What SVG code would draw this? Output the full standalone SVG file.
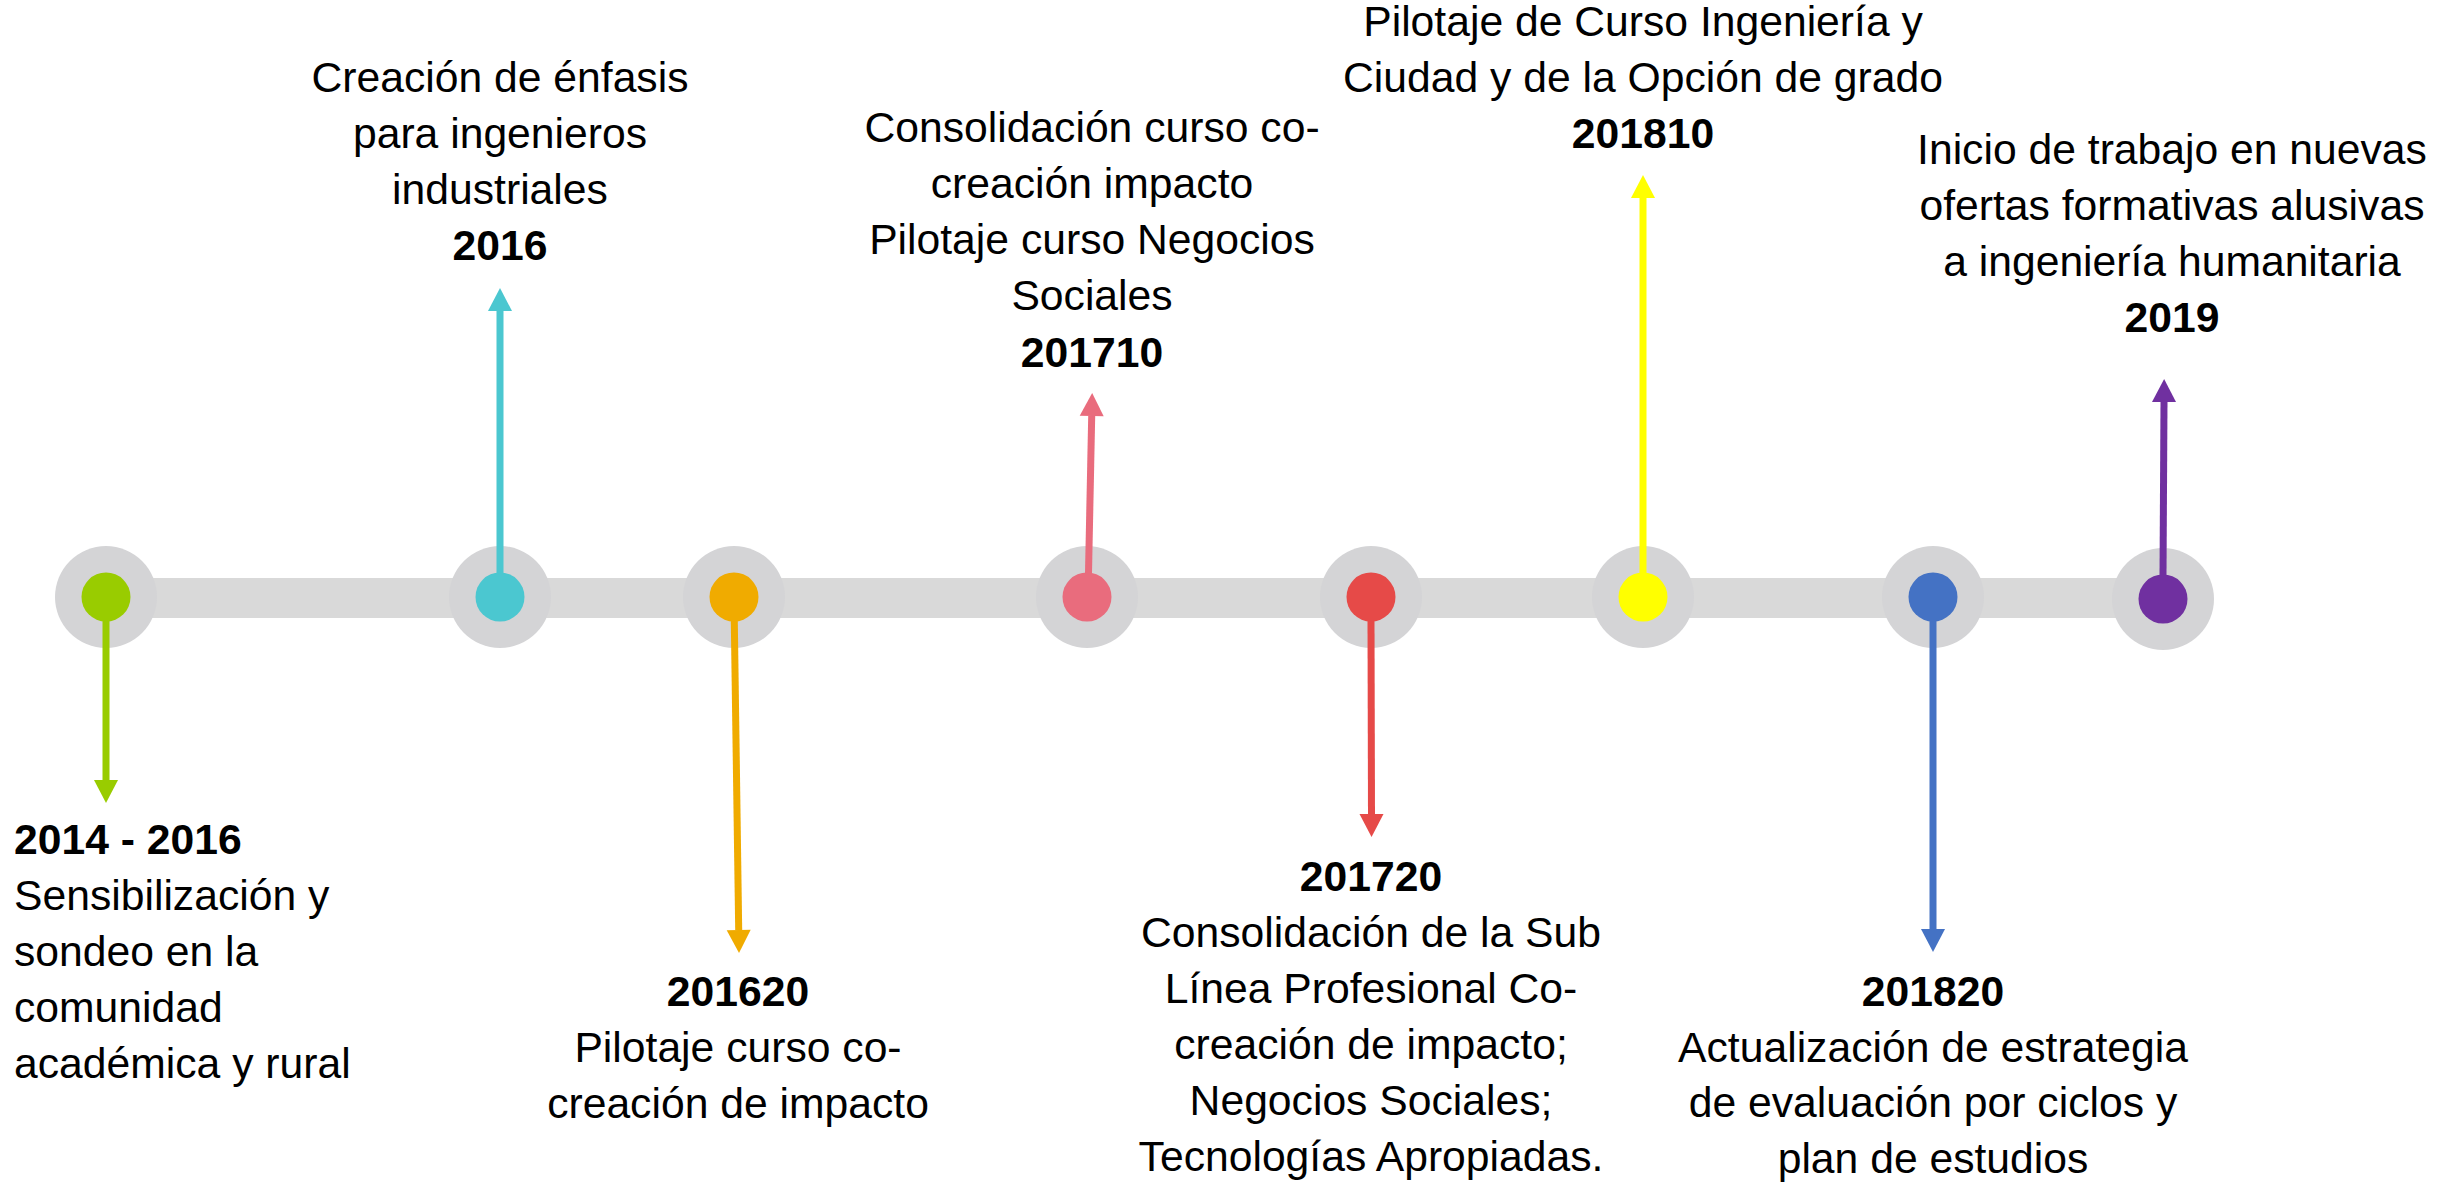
<svg xmlns="http://www.w3.org/2000/svg" width="2448" height="1182" viewBox="0 0 2448 1182">
<style>
text{font-family:"Liberation Sans",Arial,sans-serif;font-size:42.67px;fill:#000}
.b{font-weight:bold}
.c{text-anchor:middle}
.ring{fill:#D4D4D6}
.ln{stroke-width:7;fill:none}
</style>
<defs>
<marker id="mGreen" markerUnits="userSpaceOnUse" viewBox="0 -12 24 24" refX="0" refY="0" markerWidth="24" markerHeight="24" orient="auto" overflow="visible"><path d="M0,-12 L23,0 L0,12 Z" fill="#99CC00"/></marker>
<marker id="mCyan" markerUnits="userSpaceOnUse" viewBox="0 -12 24 24" refX="0" refY="0" markerWidth="24" markerHeight="24" orient="auto" overflow="visible"><path d="M0,-12 L23,0 L0,12 Z" fill="#4BC7D0"/></marker>
<marker id="mOrange" markerUnits="userSpaceOnUse" viewBox="0 -12 24 24" refX="0" refY="0" markerWidth="24" markerHeight="24" orient="auto" overflow="visible"><path d="M0,-12 L23,0 L0,12 Z" fill="#F0AB00"/></marker>
<marker id="mPink" markerUnits="userSpaceOnUse" viewBox="0 -12 24 24" refX="0" refY="0" markerWidth="24" markerHeight="24" orient="auto" overflow="visible"><path d="M0,-12 L23,0 L0,12 Z" fill="#E96C7D"/></marker>
<marker id="mRed" markerUnits="userSpaceOnUse" viewBox="0 -12 24 24" refX="0" refY="0" markerWidth="24" markerHeight="24" orient="auto" overflow="visible"><path d="M0,-12 L23,0 L0,12 Z" fill="#E64A48"/></marker>
<marker id="mYellow" markerUnits="userSpaceOnUse" viewBox="0 -12 24 24" refX="0" refY="0" markerWidth="24" markerHeight="24" orient="auto" overflow="visible"><path d="M0,-12 L23,0 L0,12 Z" fill="#FFFF00"/></marker>
<marker id="mBlue" markerUnits="userSpaceOnUse" viewBox="0 -12 24 24" refX="0" refY="0" markerWidth="24" markerHeight="24" orient="auto" overflow="visible"><path d="M0,-12 L23,0 L0,12 Z" fill="#4472C4"/></marker>
<marker id="mPurple" markerUnits="userSpaceOnUse" viewBox="0 -12 24 24" refX="0" refY="0" markerWidth="24" markerHeight="24" orient="auto" overflow="visible"><path d="M0,-12 L23,0 L0,12 Z" fill="#7030A0"/></marker>
</defs>
<rect width="2448" height="1182" fill="#FFFFFF"/>
<g id="timeline-bar">
<rect x="106" y="578" width="2034" height="40" fill="#D9D9D9"/>
</g>
<g id="node-2014">
<circle class="ring" cx="106" cy="597" r="51"/>
<circle cx="106" cy="597" r="24.5" fill="#99CC00"/>
<text class="b" x="14" y="854">2014 - 2016</text>
<text x="14" y="910">Sensibilización y</text>
<text x="14" y="966">sondeo en la</text>
<text x="14" y="1022">comunidad</text>
<text x="14" y="1078">académica y rural</text>
</g>
<g id="node-2016">
<circle class="ring" cx="500" cy="597" r="51"/>
<circle cx="500" cy="597" r="24.5" fill="#4BC7D0"/>
<text class="c" x="500" y="92">Creación de énfasis</text>
<text class="c" x="500" y="148">para ingenieros</text>
<text class="c" x="500" y="204">industriales</text>
<text class="c b" x="500" y="260">2016</text>
</g>
<g id="node-201620">
<circle class="ring" cx="734" cy="597" r="51"/>
<circle cx="734" cy="597" r="24.5" fill="#F0AB00"/>
<text class="c b" x="738" y="1006">201620</text>
<text class="c" x="738" y="1062">Pilotaje curso co-</text>
<text class="c" x="738" y="1118">creación de impacto</text>
</g>
<g id="node-201710">
<circle class="ring" cx="1087" cy="597" r="51"/>
<circle cx="1087" cy="597" r="24.5" fill="#E96C7D"/>
<text class="c" x="1092" y="142">Consolidación curso co-</text>
<text class="c" x="1092" y="198">creación impacto</text>
<text class="c" x="1092" y="254">Pilotaje curso Negocios</text>
<text class="c" x="1092" y="310">Sociales</text>
<text class="c b" x="1092" y="367">201710</text>
</g>
<g id="node-201720">
<circle class="ring" cx="1371" cy="597" r="51"/>
<circle cx="1371" cy="597" r="24.5" fill="#E64A48"/>
<text class="c b" x="1371" y="891">201720</text>
<text class="c" x="1371" y="947">Consolidación de la Sub</text>
<text class="c" x="1371" y="1003">Línea Profesional Co-</text>
<text class="c" x="1371" y="1059">creación de impacto;</text>
<text class="c" x="1371" y="1115">Negocios Sociales;</text>
<text class="c" x="1371" y="1171">Tecnologías Apropiadas.</text>
</g>
<g id="node-201810">
<circle class="ring" cx="1643" cy="597" r="51"/>
<circle cx="1643" cy="597" r="24.5" fill="#FFFF00"/>
<text class="c" x="1643" y="36">Pilotaje de Curso Ingeniería y</text>
<text class="c" x="1643" y="92">Ciudad y de la Opción de grado</text>
<text class="c b" x="1643" y="148">201810</text>
</g>
<g id="node-201820">
<circle class="ring" cx="1933" cy="597" r="51"/>
<circle cx="1933" cy="597" r="24.5" fill="#4472C4"/>
<text class="c b" x="1933" y="1006">201820</text>
<text class="c" x="1933" y="1062">Actualización de estrategia</text>
<text class="c" x="1933" y="1117">de evaluación por ciclos y</text>
<text class="c" x="1933" y="1173">plan de estudios</text>
</g>
<g id="node-2019">
<circle class="ring" cx="2163" cy="599" r="51"/>
<circle cx="2163" cy="599" r="24.5" fill="#7030A0"/>
<text class="c" x="2172" y="164">Inicio de trabajo en nuevas</text>
<text class="c" x="2172" y="220">ofertas formativas alusivas</text>
<text class="c" x="2172" y="276">a ingeniería humanitaria</text>
<text class="c b" x="2172" y="332">2019</text>
</g>
<g id="connectors">
<line class="ln" x1="106" y1="621" x2="106" y2="780" stroke="#99CC00" marker-end="url(#mGreen)"/>
<line class="ln" x1="500" y1="573" x2="500" y2="311" stroke="#4BC7D0" marker-end="url(#mCyan)"/>
<line class="ln" x1="734.3" y1="621" x2="738.7" y2="930" stroke="#F0AB00" marker-end="url(#mOrange)"/>
<line class="ln" x1="1088.5" y1="573" x2="1091.7" y2="416" stroke="#E96C7D" marker-end="url(#mPink)"/>
<line class="ln" x1="1371" y1="621" x2="1371.5" y2="814" stroke="#E64A48" marker-end="url(#mRed)"/>
<line class="ln" x1="1643" y1="573" x2="1643" y2="198" stroke="#FFFF00" marker-end="url(#mYellow)"/>
<line class="ln" x1="1933" y1="621" x2="1933" y2="929" stroke="#4472C4" marker-end="url(#mBlue)"/>
<line class="ln" x1="2163" y1="575" x2="2164" y2="402" stroke="#7030A0" marker-end="url(#mPurple)"/>
</g>
</svg>
